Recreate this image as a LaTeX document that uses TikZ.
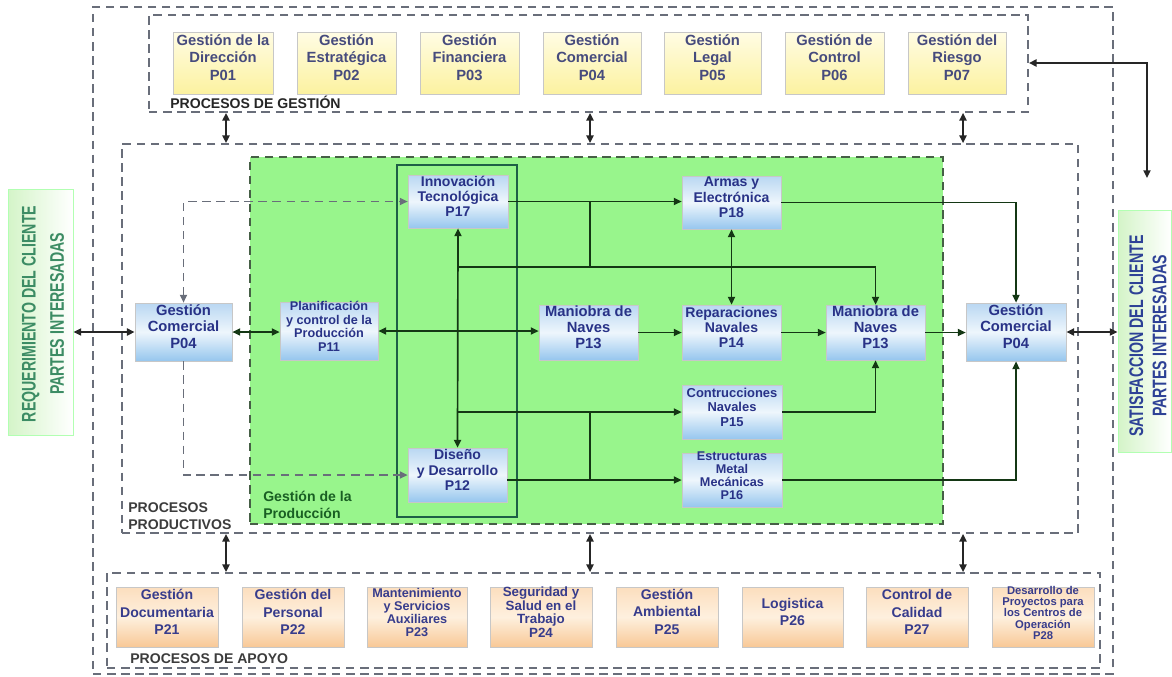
\documentclass[tikz,border=0pt]{standalone}
\usepackage{fontspec}
\setmainfont{Liberation Sans}
\usetikzlibrary{arrows.meta,fit,calc}

\definecolor{navytxt}{RGB}{40,50,135}
\definecolor{toptxt}{RGB}{70,75,125}
\definecolor{bottxt}{RGB}{55,60,140}
\definecolor{prodgreen}{RGB}{152,245,140}
\definecolor{linegreen}{RGB}{20,55,20}
\definecolor{dashgray}{RGB}{105,110,122}
\definecolor{greendash}{RGB}{70,95,70}
\definecolor{innergreen}{RGB}{30,95,70}
\definecolor{blutop}{RGB}{185,215,242}
\definecolor{blumid}{RGB}{238,246,252}
\definecolor{blubot}{RGB}{150,198,238}
\definecolor{yeltop}{RGB}{255,252,228}
\definecolor{yelbot}{RGB}{252,242,160}
\definecolor{ortop}{RGB}{252,222,190}
\definecolor{ormid}{RGB}{254,240,222}
\definecolor{orbot}{RGB}{248,200,150}
\definecolor{reqtxt}{RGB}{60,140,100}
\definecolor{sattxt}{RGB}{45,65,150}
\definecolor{sidegreen}{RGB}{212,244,200}
\definecolor{labgray}{RGB}{60,60,60}
\definecolor{labgreen}{RGB}{25,95,35}

\tikzset{
  proc/.style={draw=black!22, line width=0.5pt, inner sep=0pt, align=center,
    font=\bfseries\fontsize{10}{11}\selectfont},
  bluebox/.style={proc, text=navytxt, top color=blutop, bottom color=blubot, middle color=blumid},
  yelbox/.style={proc, text=toptxt, top color=yeltop, bottom color=yelbot,
    font=\bfseries\fontsize{10.5}{12.5}\selectfont},
  orbox/.style={proc, text=bottxt, top color=ortop, bottom color=orbot, middle color=ormid,
    font=\bfseries\fontsize{10}{12.5}\selectfont},
  zone/.style={draw=dashgray, line width=1.2pt, dash pattern=on 6pt off 4pt, inner sep=0pt},
  greenzone/.style={fill=prodgreen, draw=greendash, line width=1.1pt, dash pattern=on 6pt off 4pt, inner sep=0pt},
  sidebox/.style={inner sep=0pt, draw=green!30!white, line width=0.6pt,
    left color=sidegreen, right color=white},
  flow/.style={draw=linegreen, line width=1.2pt, -{Triangle[length=5.5pt,width=5pt]}},
  flow2/.style={draw=linegreen, line width=1.2pt, {Triangle[length=5.5pt,width=5pt]}-{Triangle[length=5.5pt,width=5pt]}},
  seg/.style={draw=linegreen, line width=1.2pt},
  link2/.style={draw=black!85, line width=1.3pt, {Triangle[length=5.5pt,width=5pt]}-{Triangle[length=5.5pt,width=5pt]}},
  dlink/.style={draw=dashgray, line width=1.2pt, dash pattern=on 6pt off 4pt},
  zonelab/.style={inner sep=0pt, anchor=west, align=left, font=\bfseries\fontsize{10}{12}\selectfont}
}

\begin{document}
\begin{tikzpicture}[x=0.025cm,y=-0.025cm]
\useasboundingbox (0,0) rectangle (1172,677);

% process zones
\node[zone, fit={(93,7)(1113,674)}] (outer) {};
\node[zone, fit={(149,15)(1028,112)}] (gest) {};
\node[zone, fit={(122,144)(1078,533)}] (prod) {};
\node[zone, fit={(107,573)(1100,668)}] (apoyo) {};
\node[greenzone, fit={(250,157)(943,524)}] (gprod) {};
\node[draw=innergreen, line width=1.3pt, inner sep=0pt, fit={(397,165)(517,517)}] (innov) {};

% zone labels
\node[zonelab, text=black!85] (lgest) at (170,102) {PROCESOS DE GESTIÓN};
\node[zonelab, text=labgray] (lprod) at (128,516) {PROCESOS\\PRODUCTIVOS};
\node[zonelab, text=labgreen] (lgp) at (263,505) {Gestión de la\\Producción};
\node[zonelab, text=labgray] (lapoyo) at (130,659) {PROCESOS DE APOYO};

% client boxes
\node[sidebox, fit={(8,189)(73,435)}] (req) {};
\node[rotate=90, inner sep=0pt, align=center, text=reqtxt,
  font=\bfseries\fontsize{14}{20}\selectfont] (reqt) at (43,314)
  {\scalebox{0.72}[1]{REQUERIMIENTO DEL CLIENTE}\\\scalebox{0.72}[1]{PARTES INTERESADAS}};
\node[sidebox, fit={(1118,210)(1171,452)}] (sat) {};
\node[rotate=90, inner sep=0pt, align=center, text=sattxt,
  font=\bfseries\fontsize{14}{16.5}\selectfont] (satt) at (1148,336)
  {\scalebox{0.72}[1]{SATISFACCION DEL CLIENTE}\\\scalebox{0.72}[1]{PARTES INTERESADAS}};

% management processes
\node[yelbox, fit={(173,32)(273,94)}] (p01) {Gestión de la\\Dirección\\P01};
\node[yelbox, fit={(297,32)(396,94)}] (p02) {Gestión\\Estratégica\\P02};
\node[yelbox, fit={(420,32)(519,94)}] (p03) {Gestión\\Financiera\\P03};
\node[yelbox, fit={(543,32)(641,94)}] (p04) {Gestión\\Comercial\\P04};
\node[yelbox, fit={(664,32)(761,94)}] (p05) {Gestión\\Legal\\P05};
\node[yelbox, fit={(785,32)(884,94)}] (p06) {Gestión de\\Control\\P06};
\node[yelbox, fit={(908,32)(1006,94)}] (p07) {Gestión del\\Riesgo\\P07};

% production processes
\node[bluebox, font=\bfseries\fontsize{10.5}{12}\selectfont, fit={(135,303)(232,361)}] (gcl) {Gestión\\Comercial\\P04};
\node[bluebox, font=\bfseries\fontsize{9}{9.7}\selectfont, fit={(280,302)(378,360)}] (p11) {Planificación\\y control de la\\Producción\\P11};
\node[bluebox, fit={(408,175)(508,228)}] (p17) {Innovación\\Tecnológica\\P17};
\node[bluebox, fit={(682,176)(781,229)}] (p18) {Armas y\\Electrónica\\P18};
\node[bluebox, font=\bfseries\fontsize{10.5}{11.3}\selectfont, fit={(539,305)(638,360)}] (p13c) {Maniobra de\\Naves\\P13};
\node[bluebox, fit={(682,305)(781,360)}] (p14) {Reparaciones\\Navales\\P14};
\node[bluebox, font=\bfseries\fontsize{10.5}{11.3}\selectfont, fit={(826,305)(925,360)}] (p13r) {Maniobra de\\Naves\\P13};
\node[bluebox, font=\bfseries\fontsize{10.5}{12}\selectfont, fit={(966,303)(1066,361)}] (gcr) {Gestión\\Comercial\\P04};
\node[bluebox, font=\bfseries\fontsize{9.2}{10.5}\selectfont, fit={(682,385)(782,439)}] (p15) {Contrucciones\\Navales\\P15};
\node[bluebox, font=\bfseries\fontsize{9}{9.2}\selectfont, fit={(682,453)(782,507)}] (p16) {Estructuras\\Metal\\Mecánicas\\P16};
\node[bluebox, fit={(408,448)(507,502)}] (p12) {Diseño\\y Desarrollo\\P12};

% support processes
\node[orbox, fit={(116,587)(218,647)}] (p21) {Gestión\\Documentaria\\P21};
\node[orbox, fit={(242,587)(344,647)}] (p22) {Gestión del\\Personal\\P22};
\node[orbox, font=\bfseries\fontsize{9}{9.3}\selectfont, fit={(367,587)(467,647)}] (p23) {Mantenimiento\\y Servicios\\Auxiliares\\P23};
\node[orbox, font=\bfseries\fontsize{9.5}{9.7}\selectfont, fit={(490,587)(592,647)}] (p24) {Seguridad y\\Salud en el\\Trabajo\\P24};
\node[orbox, fit={(616,587)(718,647)}] (p25) {Gestión\\Ambiental\\P25};
\node[orbox, fit={(742,587)(843,647)}] (p26) {Logistica\\P26};
\node[orbox, fit={(866,587)(968,647)}] (p27) {Control de\\Calidad\\P27};
\node[orbox, font=\bfseries\fontsize{8}{8.1}\selectfont, fit={(992,587)(1094,647)}] (p28) {Desarrollo de\\Proyectos para\\los Centros de\\Operación\\P28};

% helper positions for the connectors
\coordinate (colA) at (226,0);
\coordinate (colB) at (590,0);
\coordinate (colC) at (963,0);
\coordinate (rowA) at (0,267);
\coordinate (satin) at (1147,178);

% links between the zones
\foreach \c in {colA,colB,colC}{
  \draw[link2] (\c |- gest.south) -- (\c |- prod.north);
  \draw[link2] (\c |- prod.south) -- (\c |- apoyo.north);
}
\draw[link2] (gest.east |- p07.east) -| (satin);
\draw[link2] (req.east |- gcl.west) -- (gcl.west);
\draw[link2] (gcr.east) -- (sat.west |- gcr.east);

% commercial management to planning and design
\draw[dlink, {Triangle[length=5.5pt,width=5pt]}-{Triangle[length=5.5pt,width=5pt]}] (gcl.north) |- (p17.west);
\draw[dlink, -{Triangle[length=5.5pt,width=5pt]}] (gcl.south) |- (p12.west);
\draw[flow2] (gcl.east) -- (gcl.east -| p11.west);
\draw[flow2] (p11.east) -- (p11.east -| p13c.west);

% main production chain
\draw[flow] (p13c.east) -- (p13c.east -| p14.west);
\draw[flow] (p14.east) -- (p14.east -| p13r.west);
\draw[flow] (p13r.east) -- (p13r.east -| gcr.west);

% innovation and design links
\draw[flow2] (p17.south) -- (p12.north);
\draw[flow] (p17.east) -- (p17.east -| p18.west);
\draw[seg] (colB |- p17.east) -- (colB |- rowA);
\draw[flow] (p17.south |- rowA) -| (p13r.north);
\draw[flow2] (p18.south) -- (p14.north);
\draw[flow] (p18.east) -| (gcr.north);
\draw[flow] (p17.south |- p15.west) -- (p15.west);
\draw[seg] (colB |- p15.west) -- (colB |- p16.west);
\draw[flow] (p12.east |- p16.west) -- (p16.west);
\draw[flow] (p15.east) -| (p13r.south);
\draw[flow] (p16.east) -| (gcr.south);
\end{tikzpicture}
\end{document}
